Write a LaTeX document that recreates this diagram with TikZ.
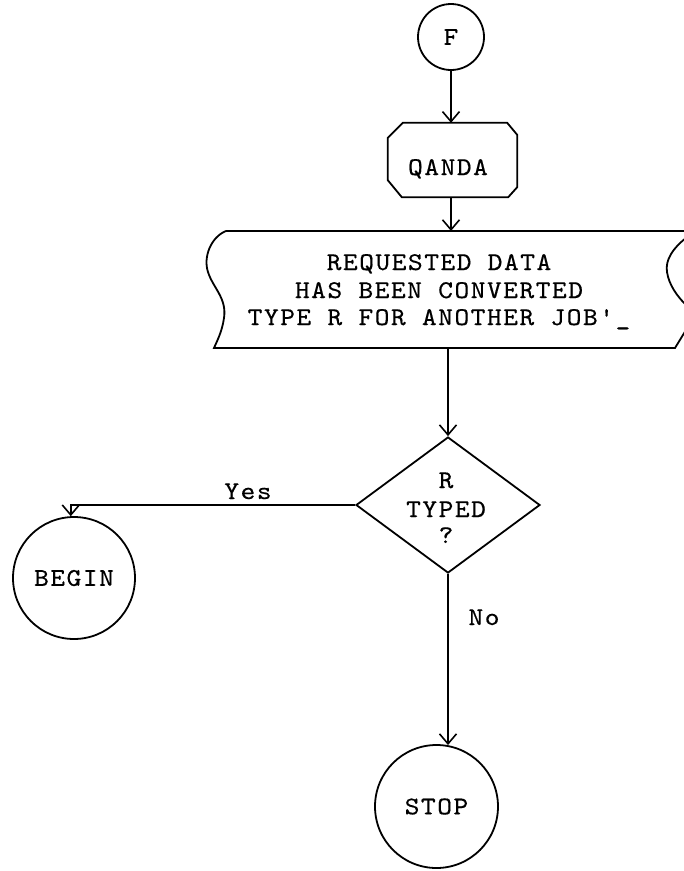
\documentclass[tikz,border=0pt]{standalone}
\usepackage{fontspec}
\newfontfamily\tw{lmmono10-regular.otf}[FakeStretch=1.1, FakeBold=0.4, LetterSpace=6, Ligatures=TeXOff]
\usetikzlibrary{arrows.meta,shapes.geometric}

\tikzset{
  every node/.style={font=\tw\fontsize{25.5}{27.5}\selectfont, inner sep=0pt},
  ln/.style={line width=1.8pt},
  arr/.style={ln, -{Straight Barb[length=10pt,width=17pt,line width=1.6pt]}},
  term/.style={circle, draw, ln},
  decision/.style={diamond, draw, ln},
  txt/.style={anchor=base},
}

\begin{document}
\begin{tikzpicture}[x=1pt,y=-1pt]
\useasboundingbox (0,0) rectangle (684,871);
\fill[white] (0,0) rectangle (684,871);

% connector circle at the top
\node[term, minimum size=66pt] (F) at (451,37) {F};

% predefined process box with clipped corners
\node[minimum width=129pt, minimum height=74pt] (qa) at (452.5,160) {};
\draw[ln] ([shift={(15,0)}]qa.north west) -- ([shift={(-10,0)}]qa.north east)
  -- ([shift={(0,12)}]qa.north east) -- ([shift={(0,-10)}]qa.south east)
  -- ([shift={(-9,0)}]qa.south east) -- ([shift={(14,0)}]qa.south west)
  -- ([shift={(0,-17)}]qa.south west) -- ([shift={(0,15)}]qa.north west) -- cycle;
\node[txt] (qatext) at (448,175) {QANDA};

% display symbol
\coordinate (dtop) at (451,231);
\coordinate (dbot) at (448,348);
\draw[ln] (226,231) -- (690,231);
\draw[ln] (226,231) .. controls (211,237) and (203,257) .. (208,272)
  .. controls (213,288) and (227,298) .. (224,318)
  .. controls (222,332) and (217,341) .. (214,348) -- (675,348) -- (686,330);
\draw[ln] (686,238) .. controls (673,248) and (665,260) .. (667,272)
  .. controls (669,285) and (677,296) .. (686,305);
\node[txt] (d1) at (439,270) {REQUESTED DATA};
\node[txt] (d2) at (439,298) {HAS BEEN CONVERTED};
\node[txt] (d3) at (439,325) {TYPE R FOR ANOTHER JOB'\_};

% decision
\node[decision, minimum width=184pt, minimum height=136pt] (dia) at (448,505) {};
\node[txt] (q1) at (446,488) {R};
\node[txt] (q2) at (446,517) {TYPED};
\node[txt] (q3) at (446,543) {?};

% terminals
\node[term, minimum size=122pt] (begin) at (74,578) {BEGIN};
\node[term, minimum size=123pt] (stop) at (436.5,806.5) {STOP};

% branch labels
\node[txt] (yes) at (248,499) {Yes};
\node[txt] (no) at (484,625) {No};

% flow lines
\draw[arr] (F) -- (F |- qa.north);
\draw[arr] (qa.south -| dtop) -- (dtop);
\draw[arr] (dbot) -- (dia.north);
\draw[arr] (dia.west) -| (begin.93);
\draw[arr] (dia.south) -- (dia.south |- stop.80);
\end{tikzpicture}
\end{document}
